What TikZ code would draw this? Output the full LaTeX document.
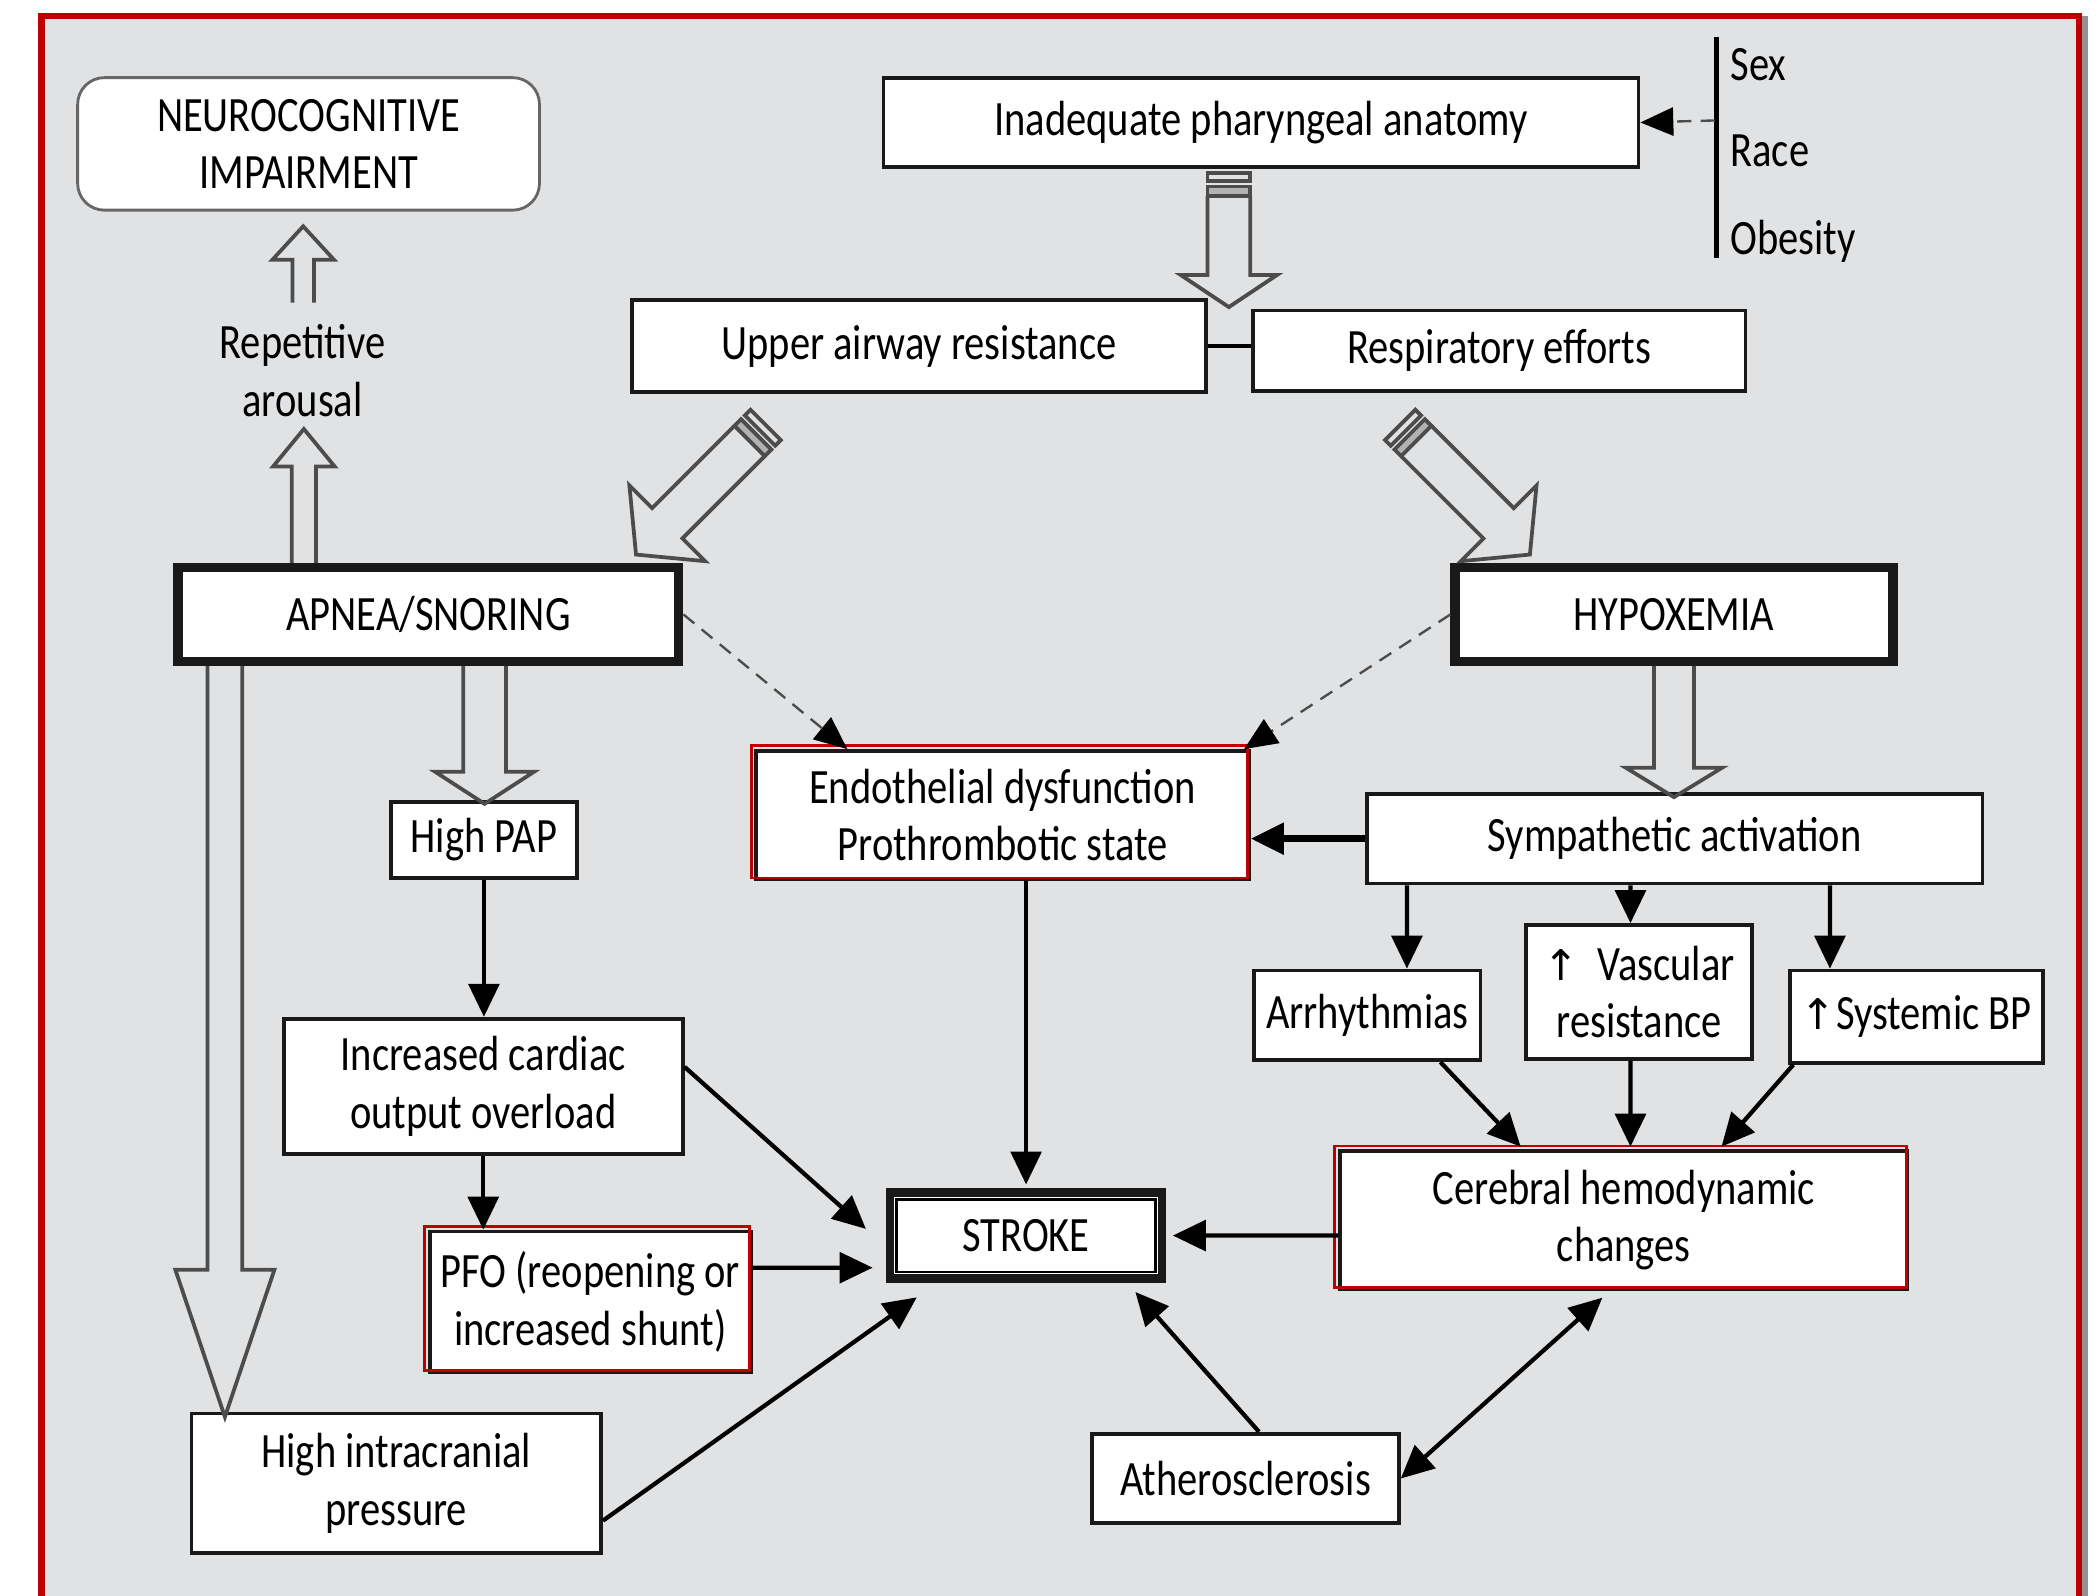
\documentclass[tikz,border=0pt]{standalone}
\usepackage{fontspec}
\setmainfont{Carlito}[FakeStretch=0.82]
\newfontfamily\arrowfont{DejaVu Sans}
\usetikzlibrary{arrows.meta}
\definecolor{panelgray}{RGB}{225,226,228}
\definecolor{framered}{RGB}{192,0,0}
\definecolor{edgegray}{RGB}{146,146,146}

\begin{document}
\begin{tikzpicture}[x=0.1mm, y=-0.1mm,
  every node/.style={font=\fontsize{10.5}{12.2}\selectfont, inner sep=0pt, align=center},
  box/.style={draw=black!90, fill=white, line width=0.8pt},
  boldbox/.style={draw=black!90, fill=white, line width=2pt},
  arr/.style={line width=0.9pt, -{Triangle[length=7pt,width=6.5pt]}},
  darr/.style={line width=0.9pt, {Triangle[length=7pt,width=6.5pt]}-{Triangle[length=7pt,width=6.5pt]}},
  dasharr/.style={densely dashed, line width=0.5pt, draw=black!70, -{Triangle[length=7pt,width=6pt,color=black]}},
  hollowline/.style={draw=black!70, line width=0.8pt},
  pics/fatarrow/.style n args={4}{code={
    \draw[hollowline] (0,-#2) -- ({#1-#4},-#2) -- ({#1-#4},-#3) -- (#1,0)
      -- ({#1-#4},#3) -- ({#1-#4},#2) -- (0,#2);
  }},
  pics/cutarrow/.style n args={4}{code={
    \draw[hollowline] (0,-#2) rectangle (6,#2);
    \draw[hollowline, fill=gray!60] (10,-#2) rectangle (17,#2);
    \draw[hollowline] (17,-#2) -- ({#1-#4},-#2) -- ({#1-#4},-#3) -- (#1,0)
      -- ({#1-#4},#3) -- ({#1-#4},#2) -- (17,#2);
  }}]

% page and frame
\useasboundingbox (0,0) rectangle (1568,1192);
\fill[white] (0,0) rectangle (1568,1192);
\fill[edgegray] (1553,12) rectangle (1560,1192);
\filldraw[fill=panelgray, draw=framered, line width=0.5mm] (31,12) rectangle (1553,1200);

% boxes
\node[box, rounded corners=2mm, draw=black!60, line width=0.6pt, minimum width=34.5mm, minimum height=9.9mm] (neuro) at (230.5,107.5) {NEUROCOGNITIVE\\IMPAIRMENT};
\node[box, minimum width=56.4mm, minimum height=6.7mm] (anatomy) at (942,91.5) {Inadequate pharyngeal anatomy};
\node[box, minimum width=42.9mm, minimum height=6.9mm] (upper) at (686.5,258.5) {Upper airway resistance};
\node[box, minimum width=36.8mm, minimum height=6.0mm] (resp) at (1120,262) {Respiratory efforts};
\node[boldbox, minimum width=37.4mm, minimum height=7mm] (apnea) at (320,459) {APNEA/SNORING};
\node[boldbox, minimum width=32.7mm, minimum height=7mm] (hypox) at (1250.5,459) {HYPOXEMIA};
\node[box, minimum width=36.8mm, minimum height=9.6mm] (endo) at (749,609) {Endothelial dysfunction\\Prothrombotic state};
\node[box, minimum width=13.9mm, minimum height=5.7mm] (pap) at (361.5,627.5) {High PAP};
\node[box, minimum width=29.8mm, minimum height=10.1mm] (cardiac) at (361,811.5) {Increased cardiac\\output overload};
\node[box, minimum width=24mm, minimum height=10.5mm] (pfo) at (441,972.5) {PFO (reopening or\\increased shunt)};
\node[box, line width=1.8pt, minimum width=20.3mm, minimum height=6.4mm] (stroke) at (766.5,923) {STROKE};
\node[box, minimum width=30.6mm, minimum height=10.4mm] (icp) at (296,1108) {High intracranial\\pressure};
\node[box, minimum width=46mm, minimum height=6.7mm] (symp) at (1251,626.5) {Sympathetic activation};
\node[box, minimum width=16.9mm, minimum height=6.7mm] (arrhy) at (1021.5,758.5) {Arrhythmias};
\node[box, minimum width=16.9mm, minimum height=10mm] (vasc) at (1224.5,741) {{\arrowfont\small ↑}\ \ Vascular\\resistance};
\node[box, minimum width=18.9mm, minimum height=6.9mm] (sysbp) at (1431.5,759.5) {{\arrowfont\small ↑}Systemic BP};
\node[box, minimum width=42.4mm, minimum height=10.3mm] (cereb) at (1213,911.5) {Cerebral hemodynamic\\changes};
\node[box, minimum width=22.9mm, minimum height=6.7mm] (ather) at (930.5,1104.5) {Atherosclerosis};
\node (rep) at (226,277) {Repetitive\\arousal};
\node[anchor=west] (sex) at (1292,48) {Sex};
\node[anchor=west] (race) at (1292,113) {Race};
\node[anchor=west] (obes) at (1292,180) {Obesity};

% red and inner frames
\foreach \n in {endo,pfo,cereb}
  \draw[framered, line width=0.6pt] ([shift={(-0.25mm,0.25mm)}]\n.north west) rectangle ([shift={(-0.25mm,0.25mm)}]\n.south east);
\draw[line width=0.6pt] ([shift={(0.8mm,-0.8mm)}]stroke.north west) rectangle ([shift={(-0.8mm,0.8mm)}]stroke.south east);

% hollow arrows
\pic[rotate=-90] at ([xshift=-2.4mm,yshift=-0.3mm]anatomy.south) {cutarrow={100}{16}{36}{24}};
\pic[rotate=-135] at ([xshift=-11.45mm,yshift=-2.3mm]upper.south) {cutarrow={137}{16}{40}{33}};
\pic[rotate=-45] at ([xshift=-7.4mm,yshift=-2.4mm]resp.south) {cutarrow={137}{16}{40}{33}};
\pic[rotate=90] at ([xshift=-9.3mm]apnea.north) {fatarrow={100}{9}{23}{28}};
\pic[rotate=90] at ([xshift=-0.4mm,yshift=-6.8mm]neuro.south) {fatarrow={57}{8}{23}{25}};
\pic[rotate=-90] at ([xshift=4.2mm]apnea.south) {fatarrow={103}{16}{37}{24}};
\pic[rotate=-90] at ([xshift=-15.2mm]apnea.south) {fatarrow={561}{13}{37}{110}};
\pic[rotate=-90] at (hypox.south) {fatarrow={98}{15}{36}{22}};

% factors
\coordinate (bar) at (1281,90);
\draw[line width=1pt] (1282,28) -- (1282,193);
\draw[dasharr] (bar) -- (anatomy.east);
\draw[line width=0.9pt] (upper.east) -- (resp.west |- upper.east);

% dashed arrows
\draw[dasharr] (apnea.east) -- ([xshift=-11.6mm]endo.north);
\draw[dasharr] (hypox.west) -- ([xshift=-0.5mm]endo.north east);

% solid arrows
\draw[arr] (pap.south) -- (pap.south |- cardiac.north);
\draw[arr] (cardiac.south) -- (cardiac.south |- pfo.north);
\draw[arr] ([yshift=2.55mm]pfo.east) -- ([xshift=-1mm,yshift=-2.4mm]stroke.west);
\draw[arr] ([yshift=1.45mm]cardiac.east) -- ([xshift=-1.5mm,yshift=0.5mm]stroke.west);
\draw[arr] ([yshift=-2.8mm]icp.east) -- ([xshift=2.3mm,yshift=-1.1mm]stroke.south west);
\draw[arr] (stroke.north |- endo.south) -- ([yshift=0.3mm]stroke.north);
\draw[arr, line width=1.4pt] (symp.west) -- (endo.east |- symp.west);
\draw[arr] ([xshift=-20mm]symp.south) -- ([xshift=2.95mm]arrhy.north);
\draw[arr] ([xshift=-3.3mm]symp.south) -- ([xshift=-0.65mm]vasc.north);
\draw[arr] ([xshift=11.6mm]symp.south) -- ([xshift=-6.45mm]sysbp.north);
\draw[arr] ([xshift=5.45mm]arrhy.south) -- ([xshift=-7.7mm,yshift=0.2mm]cereb.north);
\draw[arr] ([xshift=-0.65mm]vasc.south) -- ([xshift=0.5mm,yshift=0.2mm]cereb.north);
\draw[arr] ([xshift=0.4mm]sysbp.south west) -- ([xshift=7.3mm,yshift=0.2mm]cereb.north);
\draw[arr] ([yshift=-1.15mm]cereb.west) -- ([xshift=0.5mm]stroke.east);
\draw[arr] ([xshift=1mm]ather.north) -- ([xshift=-2.3mm,yshift=-0.7mm]stroke.south east);
\draw[darr] (ather.east) -- ([xshift=-1.6mm,yshift=-0.5mm]cereb.south);
\end{tikzpicture}
\end{document}
